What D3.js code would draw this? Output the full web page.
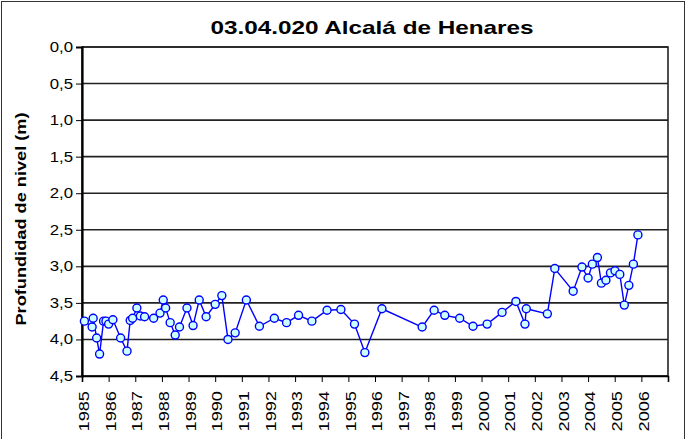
<!DOCTYPE html>
<html><head><meta charset="utf-8">
<script src="https://cdn.jsdelivr.net/npm/d3@7"></script>
<style>body{margin:0;background:#fff}svg{display:block}</style>
</head><body>
<script>
const title = "03.04.020 Alcalá de Henares";
const yLabel = "Profundidad de nivel (m)";
const years = [1985,1986,1987,1988,1989,1990,1991,1992,1993,1994,1995,1996,1997,1998,1999,2000,2001,2002,2003,2004,2005,2006,2007];
const yTicks = [0,0.5,1,1.5,2,2.5,3,3.5,4,4.5];
const dates = [1985.09,1985.38,1985.42,1985.55,1985.66,1985.81,1985.90,1986.00,1986.16,1986.45,1986.69,1986.81,1986.90,1987.06,1987.19,1987.35,1987.69,1987.93,1988.05,1988.14,1988.31,1988.50,1988.66,1988.94,1989.17,1989.40,1989.66,1990.00,1990.25,1990.48,1990.75,1991.17,1991.66,1992.22,1992.68,1993.13,1993.63,1994.20,1994.72,1995.23,1995.62,1996.26,1997.77,1998.22,1998.62,1999.18,1999.68,2000.21,2000.77,2001.29,2001.63,2001.68,2002.47,2002.75,2003.44,2003.77,2004.00,2004.16,2004.35,2004.50,2004.67,2004.84,2005.01,2005.19,2005.36,2005.53,2005.70,2005.87];
const depths = [3.75,3.83,3.71,3.98,4.20,3.75,3.75,3.79,3.73,3.98,4.16,3.74,3.71,3.57,3.68,3.69,3.71,3.64,3.46,3.57,3.77,3.94,3.83,3.57,3.81,3.46,3.69,3.52,3.40,4.00,3.91,3.46,3.82,3.71,3.77,3.67,3.75,3.60,3.59,3.79,4.18,3.58,3.83,3.60,3.67,3.71,3.82,3.79,3.63,3.48,3.79,3.58,3.65,3.03,3.34,3.01,3.16,2.97,2.88,3.23,3.19,3.09,3.06,3.11,3.53,3.26,2.97,2.57];

const W = 692, H = 439;
const m = {left: 82, right: 668, top: 47, bottom: 376};
const svg = d3.select("body").append("svg").attr("width", W).attr("height", H)
  .style("font-family", "Liberation Sans, Arial, sans-serif");

svg.append("rect").attr("x", 1.5).attr("y", 1.5).attr("width", 683).attr("height", 445)
  .attr("fill", "none").attr("stroke", "#333").attr("stroke-width", 1);

const x = d3.scaleLinear().domain([1985, 2007]).range([m.left, m.right]);
const y = d3.scaleLinear().domain([0, 4.5]).range([m.top, m.bottom]);

// gridlines
svg.append("g").selectAll("line").data(yTicks).join("line")
  .attr("x1", m.left).attr("x2", m.right)
  .attr("y1", d => y(d)).attr("y2", d => y(d))
  .attr("stroke", "#222").attr("stroke-width", 1.6);

// plot border
svg.append("rect").attr("x", m.left).attr("y", m.top)
  .attr("width", m.right - m.left).attr("height", m.bottom - m.top)
  .attr("fill", "none").attr("stroke", "#222").attr("stroke-width", 1.6);

// y axis
const yAxis = d3.axisLeft(y).tickValues(yTicks).tickSize(6)
  .tickFormat(d => d3.format(".1f")(d).replace(".", ","));
const gy = svg.append("g").attr("transform", `translate(${m.left},0)`).call(yAxis);
gy.select(".domain").attr("stroke", "#000").attr("stroke-width", 2.2);
gy.selectAll(".tick line").attr("stroke", "#000");
gy.selectAll("text").attr("font-size", 14).attr("fill", "#000")
  .attr("x", 0).attr("transform", "translate(-9,0) scale(1.2,1)");

// x axis
const xAxis = d3.axisBottom(x).tickValues(years).tickSize(6).tickFormat(d => d < 2007 ? String(d) : "");
const gx = svg.append("g").attr("transform", `translate(0,${m.bottom})`).call(xAxis);
gx.select(".domain").attr("stroke", "#000").attr("stroke-width", 1.6);
gx.selectAll(".tick line").attr("stroke", "#000");
gx.selectAll("text").attr("font-size", 14).attr("fill", "#000")
  .attr("text-anchor", "end").attr("x", 0).attr("y", 0).attr("dy", null)
  .attr("dominant-baseline", "middle")
  .attr("transform", "translate(3,15) rotate(-90) scale(1.3,1)");

// line
const pts = dates.map((d, i) => [d, depths[i]]);
svg.append("path").datum(pts)
  .attr("fill", "none").attr("stroke", "#0000ff").attr("stroke-width", 1.4)
  .attr("d", d3.line().x(d => x(d[0])).y(d => y(d[1])));
svg.append("g").selectAll("circle").data(pts).join("circle")
  .attr("cx", d => x(d[0])).attr("cy", d => y(d[1])).attr("r", 4)
  .attr("fill", "#ccffff").attr("stroke", "#0000ff").attr("stroke-width", 1.4);

// title
svg.append("text").attr("transform", `translate(${(m.left + m.right) / 2 - 3},34) scale(1.35,1)`)
  .attr("text-anchor", "middle").attr("font-size", 18).attr("font-weight", "bold").text(title);

// y label
svg.append("text").attr("transform", `translate(26,219) rotate(-90) scale(1.3,1)`)
  .attr("text-anchor", "middle").attr("font-size", 14).attr("font-weight", "bold").text(yLabel);
</script>
</body></html>
